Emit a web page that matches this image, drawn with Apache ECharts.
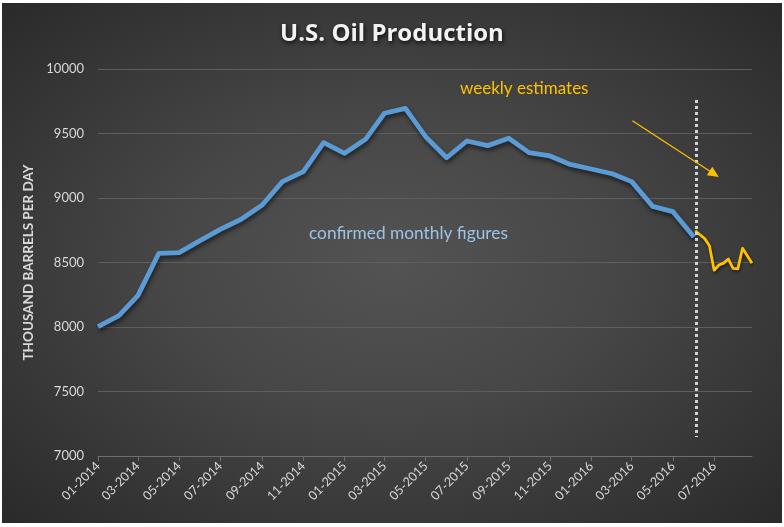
<!DOCTYPE html>
<html>
<head>
<meta charset="utf-8">
<script src="https://cdn.jsdelivr.net/npm/echarts@6/dist/echarts.min.js"></script>
<style>
  html, body { margin: 0; padding: 0; background: #ffffff; }
  #chart {
    position: absolute; left: 2px; top: 3px; width: 780px; height: 520px;
    background: radial-gradient(ellipse farthest-corner at 50% 50%, #535353 0%, #474747 40%, #2a2a2a 100%);
  }
</style>
</head>
<body>
<div id="chart"></div>
<script>
// ---- data ----
const monthlyDates = [
  '2014-01','2014-02','2014-03','2014-04','2014-05','2014-06','2014-07','2014-08','2014-09','2014-10','2014-11','2014-12',
  '2015-01','2015-02','2015-03','2015-04','2015-05','2015-06','2015-07','2015-08','2015-09','2015-10','2015-11','2015-12',
  '2016-01','2016-02','2016-03','2016-04','2016-05','2016-06'
];
const monthlyValues = [
  8002, 8088, 8243, 8571, 8576, 8669, 8757, 8835, 8946, 9127, 9204, 9429,
  9346, 9455, 9657, 9695, 9475, 9312, 9442, 9406, 9463, 9352, 9326, 9260,
  9225, 9188, 9127, 8935, 8894, 8697
];
const weeklyDates = [
  '2016-06-03','2016-06-10','2016-06-17','2016-06-24','2016-07-01','2016-07-08','2016-07-15',
  '2016-07-22','2016-07-29','2016-08-05','2016-08-12','2016-08-19','2016-08-26'
];
const weeklyValues = [8745, 8715, 8685, 8630, 8440, 8481, 8495, 8527, 8455, 8450, 8610, 8552, 8494];
const xTickLabels = [
  '01-2014','03-2014','05-2014','07-2014','09-2014','11-2014',
  '01-2015','03-2015','05-2015','07-2015','09-2015','11-2015',
  '01-2016','03-2016','05-2016','07-2016'
];
const titleText = 'U.S. Oil Production';
const yAxisName = 'THOUSAND BARRELS PER DAY';
const weeklyNote = 'weekly estimates';
const monthlyNote = 'confirmed monthly figures';

// ---- helpers ----
function ts(s) {
  const p = s.split('-').map(Number);
  return Date.UTC(p[0], p[1] - 1, p[2] || 1);
}
function tickTs(lbl) {
  const p = lbl.split('-').map(Number);
  return Date.UTC(p[1], p[0] - 1, 1);
}
function fmt(v) {
  const d = new Date(v);
  const m = d.getUTCMonth() + 1;
  return (m < 10 ? '0' : '') + m + '-' + d.getUTCFullYear();
}

const monthlyData = monthlyDates.map((d, i) => [ts(d), monthlyValues[i]]);
const weeklyData = weeklyDates.map((d, i) => [ts(d), weeklyValues[i]]);
const tickValues = xTickLabels.map(tickTs);

const FONT = 'Lato, "Open Sans", sans-serif';
const chart = echarts.init(document.getElementById('chart'), null, { renderer: 'canvas' });

chart.setOption({
  backgroundColor: 'transparent',
  animation: false,
  title: {
    text: titleText,
    left: 'center',
    top: 14,
    textStyle: {
      color: '#f2f2f2', fontSize: 24, fontWeight: 'bold', fontFamily: '"Open Sans", Lato, sans-serif',
      textShadowColor: 'rgba(0,0,0,0.8)', textShadowBlur: 4, textShadowOffsetX: 1, textShadowOffsetY: 2
    }
  },
  grid: { left: 96, right: 30, top: 66, bottom: 67, containLabel: false },
  xAxis: {
    type: 'value',
    min: ts('2014-01-01'),
    max: ts('2016-08-26'),
    axisLine: { show: true, lineStyle: { color: '#6e6e6e', width: 1 } },
    axisTick: { show: true, length: 5, customValues: tickValues, lineStyle: { color: '#6e6e6e' } },
    splitLine: { show: false },
    axisLabel: {
      customValues: tickValues,
      formatter: fmt,
      rotate: 45,
      margin: 8,
      color: '#d9d9d9',
      fontSize: 12.5,
      fontFamily: FONT
    }
  },
  yAxis: {
    type: 'value',
    min: 7000,
    max: 10000,
    interval: 500,
    name: yAxisName,
    nameLocation: 'middle',
    nameGap: 57,
    nameTextStyle: { color: '#d9d9d9', fontSize: 13.5, fontWeight: 'bold', fontFamily: FONT },
    axisLine: { show: false },
    axisTick: { show: false },
    splitLine: { lineStyle: { color: '#5e5e5e', width: 1 } },
    axisLabel: { color: '#d9d9d9', fontSize: 13, fontFamily: FONT, margin: 14, formatter: v => String(v) }
  },
  series: [
    {
      name: 'monthly',
      type: 'line',
      data: monthlyData,
      showSymbol: false,
      symbol: 'none',
      lineStyle: {
        color: '#5b9bd5', width: 4.8, join: 'round',
        shadowColor: 'rgba(0,0,0,0.55)', shadowBlur: 4, shadowOffsetX: 1, shadowOffsetY: 3
      },
      z: 3
    },
    {
      name: 'weekly',
      type: 'line',
      data: weeklyData,
      showSymbol: false,
      symbol: 'none',
      lineStyle: {
        color: '#ffc000', width: 2.8, join: 'round',
        shadowColor: 'rgba(0,0,0,0.5)', shadowBlur: 3, shadowOffsetX: 1, shadowOffsetY: 2
      },
      z: 4,
      markLine: {
        silent: true,
        animation: false,
        symbol: ['none', 'none'],
        label: { show: false },
        emphasis: { disabled: true },
        data: [
          [
            { coord: [ts('2016-06-05'), 9760], lineStyle: { color: '#cfd6de', width: 3, type: [3, 3] } },
            { coord: [ts('2016-06-05'), 7147] }
          ],
          [
            { coord: [ts('2016-03-02'), 9599], symbol: 'none', lineStyle: { color: '#ffc000', width: 1.2, type: 'solid' } },
            { coord: [ts('2016-07-01'), 9186], symbol: 'triangle', symbolSize: [10, 11] }
          ]
        ]
      }
    }
  ],
  graphic: [
    {
      type: 'text', left: 458, top: 77,
      style: { text: weeklyNote, fill: '#ffc000', font: '17px ' + FONT }
    },
    {
      type: 'text', left: 307, top: 222,
      style: { text: monthlyNote, fill: '#9dc3e6', font: '17.3px ' + FONT }
    }
  ]
});
</script>
</body>
</html>
